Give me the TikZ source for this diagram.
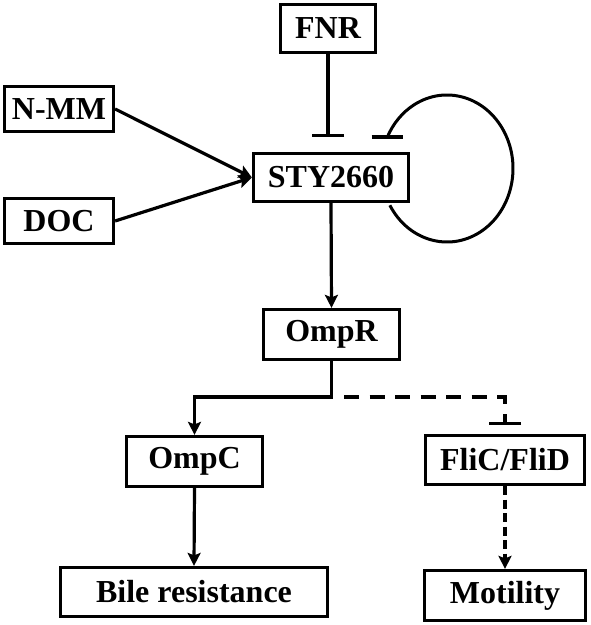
\documentclass[tikz,border=0pt]{standalone}
\usepackage{fontspec}
\setmainfont{Liberation Serif}
\usetikzlibrary{arrows.meta}
\tikzset{
	gene/.style={draw,line width=3.2pt,inner sep=0pt,font=\bfseries\fontsize{32}{32}\selectfont},
	act/.style={line width=3.2pt,-{Stealth[length=13pt,width=13pt,inset=2.5pt]}},
	inh/.style={line width=3.2pt,-{Bar[width=32pt]}},
}
\begin{document}
\begin{tikzpicture}[x=10pt,y=10pt]
			\useasboundingbox (0,0) rectangle (59.1,62.5);
			\node[gene,minimum width=95pt,minimum height=48pt] (FNR) at (32.8,59.65) {FNR};
			\node[gene,minimum width=109pt,minimum height=45pt] (NMM) at (5.9,51.6) {N-MM};
			\node[gene,minimum width=109pt,minimum height=45pt] (DOC) at (5.9,40.4) {DOC};
			\node[gene,minimum width=155pt,minimum height=48pt] (STY) at (33.1,44.75) {STY2660};
			\node[gene,minimum width=136pt,minimum height=50pt] (OmpR) at (33.15,29.05) {OmpR};
			\node[gene,minimum width=136pt,minimum height=50pt] (OmpC) at (19.45,16.35) {OmpC};
			\node[gene,minimum width=159pt,minimum height=49pt] (FliC) at (50.5,16.5) {FliC/FliD};
			\node[gene,minimum width=267pt,minimum height=49pt] (Bile) at (19.4,3.3) {Bile resistance};
			\node[gene,minimum width=161pt,minimum height=50pt] (Mot) at (50.5,2.95) {Motility};
			\coordinate (fnrbar) at (32.8,48.8);
			\coordinate (loopc) at (44.7,45.65);
			\coordinate (loopbar) at (38.72,48.8);
			\coordinate (split) at (33.15,22.8);
			\coordinate (dstart) at (34.4,22.8);
			\draw[inh] (FNR.south) to (fnrbar);
			\draw[act] (NMM.east) to (STY.west);
			\draw[act] (DOC.east) to (STY.west);
			\draw[line width=3pt,shift={(loopc)}] (-150:6.6 and 7.35) arc[start angle=-150,end angle=155,x radius=6.6,y radius=7.35];
			\draw[line width=3.2pt,shift={(loopbar)}] (-1.55,0) to (1.55,0);
			\draw[act] (STY.south) to (OmpR.north);
			\draw[act] (OmpR.south) to (split) -| (OmpC.north);
			\draw[inh,dash pattern=on 15pt off 10.5pt,shorten >=9pt] (dstart) -| (FliC.north);
			\draw[act] (OmpC.south) to (Bile.north);
			\draw[act,dash pattern=on 9pt off 4.5pt] (FliC.south) to (Mot.north);
		\end{tikzpicture}
\end{document}
